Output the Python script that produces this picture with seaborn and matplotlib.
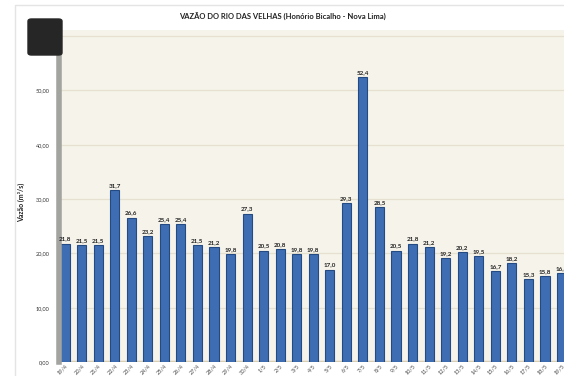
import pandas as pd
import matplotlib.pyplot as plt
import seaborn as sns
from matplotlib.patches import FancyBboxPatch, Rectangle

sns.set_theme(style="white")
plt.rcParams['font.family'] = ['Lato', 'DejaVu Sans']

datas = ['19/4', '20/4', '21/4', '22/4', '23/4', '24/4', '25/4', '26/4', '27/4', '28/4',
         '29/4', '30/4', '1/5', '2/5', '3/5', '4/5', '5/5', '6/5', '7/5', '8/5',
         '9/5', '10/5', '11/5', '12/5', '13/5', '14/5', '15/5', '16/5', '17/5', '18/5',
         '19/5']
vazao = [21.8, 21.5, 21.5, 31.7, 26.6, 23.2, 25.4, 25.4, 21.5, 21.2,
         19.8, 27.3, 20.5, 20.8, 19.8, 19.8, 17.0, 29.3, 52.4, 28.5,
         20.5, 21.8, 21.2, 19.2, 20.2, 19.5, 16.7, 18.2, 15.3, 15.8,
         16.4]
yticks = [0, 10, 20, 30, 40, 50, 60]

df = pd.DataFrame({'data': datas, 'vazao': vazao})

fig = plt.figure(figsize=(5.64, 3.76), dpi=100)
fig.patch.set_facecolor('white')
# moldura externa do grafico
fig.add_artist(Rectangle((15 / 564, -0.01), 0.99, 1 - 5 / 376 + 0.01, transform=fig.transFigure,
                         facecolor='none', edgecolor='#e4e4e4', lw=1))

ax = fig.add_axes([0.105, 0.037, 0.895, 0.883])
ax.set_facecolor('#f6f3ea')

sns.barplot(data=df, x='data', y='vazao', order=datas, color='#3e6db3',
            saturation=1, width=0.55, edgecolor='#234a82', linewidth=0.8, ax=ax)

rotulos = [f"{v:.1f}".replace('.', ',') for v in vazao]
ax.bar_label(ax.containers[0], labels=rotulos, fontsize=4.5, fontweight='bold',
             color='#222222', padding=1.5)

ax.set_xlim(-0.35, 30.15)
ax.set_ylim(0, 61.1)
ax.set_yticks(yticks)
ax.set_yticklabels([f"{t:.2f}".replace('.', ',') for t in yticks], fontsize=4, color='#333333')
ax.tick_params(axis='y', pad=7, length=0)
ax.tick_params(axis='x', length=0, pad=1)
plt.setp(ax.get_xticklabels(), rotation=45, ha='right', fontsize=4, color='#444444',
         rotation_mode='anchor')
ax.yaxis.grid(True, color='#e6e0d0', lw=0.9)
ax.set_axisbelow(True)
ax.axhline(0, color='#d8ccb0', lw=2.5, zorder=0.5)

for lado in ['top', 'right', 'bottom']:
    ax.spines[lado].set_visible(False)
ax.spines['left'].set_color('#a3a3a0')
ax.spines['left'].set_linewidth(4)

ax.set_xlabel('')
ax.set_ylabel('Vazão (m³/s)', fontsize=5, fontweight='bold', color='#222222')
ax.yaxis.set_label_coords(-0.068, 0.48)

fig.text(0.5, 1 - 17 / 376, 'VAZÃO DO RIO DAS VELHAS (Honório Bicalho - Nova Lima)',
         ha='center', va='center', fontsize=5.5, fontweight='bold', color='#222222')

# quadrado escuro no canto superior esquerdo
fig.add_artist(FancyBboxPatch((28 / 564, 1 - 55 / 376), 34 / 564, 36 / 376,
                              boxstyle='round,pad=0,rounding_size=0.006',
                              transform=fig.transFigure, facecolor='#262626',
                              edgecolor='#262626', zorder=10))

fig.savefig('out.png', dpi=100)
